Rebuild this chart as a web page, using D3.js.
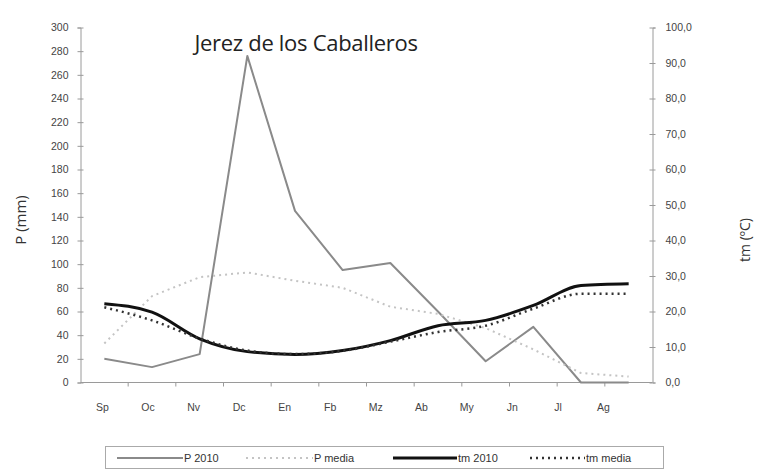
<!DOCTYPE html>
<html>
<head>
<meta charset="utf-8">
<script src="https://cdn.jsdelivr.net/npm/d3@7"></script>
<style>
body { margin: 0; background: #fff; }
svg text { font-family: "Liberation Sans Narrow", "Liberation Sans", Arial, sans-serif; }
</style>
</head>
<body>
<svg id="chart" width="760" height="471"></svg>
<script>
var months = ["Sp", "Oc", "Nv", "Dc", "En", "Fb", "Mz", "Ab", "My", "Jn", "Jl", "Ag"];
var p2010 = [20, 13, 24, 276, 145, 95, 101, 60, 18, 47, 0, 0];
var pMedia = [33, 73, 89, 93, 86, 80, 64, 58, 46, 28, 8, 5];
var tm2010 = [22.2, 19.8, 12.3, 8.7, 7.9, 9.0, 11.8, 16.0, 17.5, 21.7, 27.3, 27.8];
var tmMedia = [21.2, 17.5, 12.4, 9.0, 8.0, 8.9, 11.5, 14.2, 16.0, 20.8, 25.0, 25.0];
var leftTicks = d3.range(0, 301, 20);
var rightTicks = d3.range(0, 101, 10);

var X0 = 80.5, X1 = 652.5, Y0 = 382.5, Y1 = 27.5;
var AXIS_COLOR = "#9a9a9a";
var TEXT_COLOR = "#444";

var svg = d3.select("#chart");

var x = d3.scaleBand().domain(months).range([X0, X1]);
var xLab = d3.scalePoint().domain(months).range([102, 603]);
var yP = d3.scaleLinear().domain([0, 300]).range([Y0, Y1]);
var yT = d3.scaleLinear().domain([0, 100]).range([Y0, Y1]);

var cx = function(i) { return x(months[i]) + x.bandwidth() / 2; };

// left axis
var gl = svg.append("g").attr("transform", "translate(" + X0 + ",0)")
    .call(d3.axisLeft(yP).tickValues(leftTicks).tickSize(3).tickPadding(9));
gl.selectAll(".tick line").attr("x2", 3).attr("x1", -3);

// right axis
var gr = svg.append("g").attr("transform", "translate(" + X1 + ",0)")
    .call(d3.axisRight(yT).tickValues(rightTicks).tickSize(3).tickPadding(10)
        .tickFormat(function(d) { return d3.format(".1f")(d).replace(".", ","); }));
gr.selectAll(".tick line").attr("x1", -3).attr("x2", 3);

// bottom axis: ticks at band boundaries
var gb = svg.append("g").attr("transform", "translate(0," + Y0 + ")");
gb.append("line").attr("x1", X0).attr("x2", X1).attr("stroke", AXIS_COLOR);
gb.selectAll("line.tk").data(months.slice(1)).enter().append("line")
    .attr("class", "tk")
    .attr("x1", function(d) { return x(d); }).attr("x2", function(d) { return x(d); })
    .attr("y1", 0).attr("y2", 4).attr("stroke", AXIS_COLOR);
var gbl = svg.append("g").attr("transform", "translate(0," + (Y0 + 16) + ")")
    .call(d3.axisBottom(xLab).tickSize(0).tickPadding(5));
gbl.select(".domain").remove();

[gl, gr, gbl].forEach(function(g) {
    g.select(".domain").attr("stroke", AXIS_COLOR);
    g.selectAll(".tick line").attr("stroke", AXIS_COLOR);
    g.selectAll(".tick text").attr("fill", TEXT_COLOR).style("font-size", "10.5px");
});

// series
var series = [
    { name: "P 2010", data: p2010, y: yP, color: "#8a8a8a", width: 2, dash: null },
    { name: "P media", data: pMedia, y: yP, color: "#c4c4c4", width: 2, dash: "2,4" },
    { name: "tm 2010", data: tm2010, y: yT, color: "#111", width: 3, dash: null },
    { name: "tm media", data: tmMedia, y: yT, color: "#333", width: 2.5, dash: "2,4" }
];

series.forEach(function(s) {
    var line = d3.line()
        .x(function(d, i) { return cx(i); })
        .y(function(d) { return s.y(d); });
    if (s.name.indexOf("tm") === 0) line.curve(d3.curveMonotoneX);
    svg.append("path")
        .datum(s.data)
        .attr("d", line)
        .attr("fill", "none")
        .attr("stroke", s.color)
        .attr("stroke-width", s.width)
        .attr("stroke-dasharray", s.dash)
        .attr("stroke-linejoin", "round");
});

// title
svg.append("text").attr("x", 306).attr("y", 51).attr("text-anchor", "middle")
    .style("font-family", "'Open Sans', sans-serif").style("font-size", "22px")
    .style("letter-spacing", "-0.3px")
    .attr("fill", "#222").text("Jerez de los Caballeros");

// axis titles
svg.append("text").attr("transform", "translate(26,220) rotate(-90)")
    .attr("text-anchor", "middle").style("font-family", "'Open Sans', sans-serif")
    .style("font-size", "15px").attr("fill", "#333").text("P (mm)");
svg.append("text").attr("transform", "translate(750,240) rotate(-90)")
    .attr("text-anchor", "middle").style("font-family", "'Open Sans', sans-serif")
    .style("font-size", "14px").attr("fill", "#333").text("tm (ºC)");

// legend
var legendX = [117, 246, 393, 530];
var legendLen = [66, 67, 64, 55];
var lg = svg.append("g");
lg.append("rect").attr("x", 105.5).attr("y", 446.5).attr("width", 558).attr("height", 22)
    .attr("fill", "none").attr("stroke", "#aaa");
series.forEach(function(s, i) {
    lg.append("line").attr("x1", legendX[i]).attr("x2", legendX[i] + legendLen[i])
        .attr("y1", 458).attr("y2", 458)
        .attr("stroke", s.color).attr("stroke-width", s.width)
        .attr("stroke-dasharray", s.dash);
    lg.append("text").attr("x", legendX[i] + legendLen[i] + 1).attr("y", 462)
        .style("font-size", "11px").attr("fill", "#333").text(s.name);
});
</script>
</body>
</html>
